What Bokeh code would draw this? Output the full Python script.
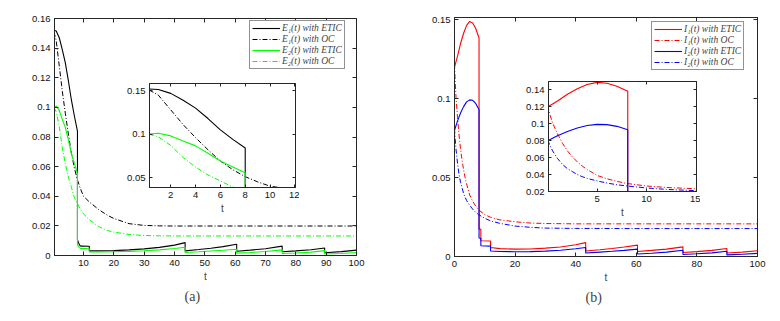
from bokeh.plotting import figure
from bokeh.models import (LinearAxis, FixedTicker, Range1d, Legend, LegendItem,
                          Title, GridBox, Column)
from bokeh.embed import file_html
from bokeh.resources import INLINE

# ---------------- data: panel (a) ----------------
tE1_etic = [0.25, 1, 2, 3, 4, 5, 6, 7, 8.0, 8.0, 8.4, 8.8, 9.2, 11.9, 11.9, 15, 20, 25, 30, 35, 40,
            43.5, 43.5, 48, 52, 56, 60.5, 60.5, 65, 70, 75.5, 75.5, 80, 85, 89.5, 89.5, 95, 100]
E1_etic = [0.152, 0.1515, 0.147, 0.139, 0.130, 0.118, 0.105, 0.094, 0.084, 0.0105, 0.0085, 0.0068,
           0.0063, 0.0062, 0.0031, 0.0031, 0.0033, 0.0038, 0.0045, 0.0055, 0.0070,
           0.0087, 0.0031, 0.0040, 0.0049, 0.0060, 0.0076, 0.0029, 0.0036, 0.0046, 0.0063, 0.0025,
           0.0031, 0.0039, 0.0051, 0.0019, 0.0026, 0.0036]

tE2_etic = [0.25, 1, 2, 3, 4, 5, 6, 7, 8.0, 8.0, 8.5, 9.0, 11.9, 11.9, 15, 20, 25, 30, 35, 40,
            43.5, 43.5, 48, 52, 56, 60.5, 60.5, 65, 70, 75.5, 75.5, 80, 85, 89.5, 89.5, 95, 100]
E2_etic = [0.100, 0.101, 0.098, 0.092, 0.0865, 0.078, 0.069, 0.062, 0.0555, 0.0075, 0.0055, 0.0048,
           0.0046, 0.0024, 0.0024, 0.0025, 0.0028, 0.0032, 0.0038, 0.0047,
           0.0056, 0.0020, 0.0025, 0.0030, 0.0035, 0.0042, 0.0016, 0.0020, 0.0027, 0.0038, 0.0013,
           0.0017, 0.0023, 0.0033, 0.0010, 0.0014, 0.0020]

tE_oc = [0.25, 1, 2, 3, 4, 5, 6, 7, 8, 9, 10, 12, 15, 18, 20, 25, 30, 35, 40, 60, 80, 100]
E1_oc = [0.151, 0.145, 0.128, 0.111, 0.096, 0.082, 0.069, 0.059, 0.051, 0.045, 0.040, 0.036,
         0.031, 0.027, 0.025, 0.0215, 0.0203, 0.0200, 0.0199, 0.0199, 0.0199, 0.0199]
E2_oc = [0.100, 0.097, 0.087, 0.073, 0.062, 0.053, 0.046, 0.039, 0.035, 0.031, 0.028, 0.024,
         0.0195, 0.0168, 0.0158, 0.0142, 0.0135, 0.0133, 0.0132, 0.0132, 0.0132, 0.0132]

# ---------------- data: panel (b) ----------------
tI1_etic = [0, 0.5, 1, 2, 3, 4, 5, 6, 7, 8.1, 8.1, 8.7, 8.7, 11.9, 11.9, 15, 20, 25, 30, 35, 40,
            43.3, 43.3, 48, 52, 56, 60.4, 60.4, 65, 70, 75.4, 75.4, 80, 85, 89.9, 89.9, 95, 100]
I1_etic = [0.120, 0.1235, 0.127, 0.135, 0.1415, 0.1465, 0.149, 0.148, 0.1445, 0.1385, 0.0175, 0.0172,
           0.0100, 0.0098, 0.0057, 0.0050, 0.0047, 0.0048, 0.0053, 0.0060, 0.0074,
           0.0088, 0.0035, 0.0043, 0.0051, 0.0060, 0.0072, 0.0032, 0.0039, 0.0047, 0.0061, 0.0025,
           0.0031, 0.0039, 0.0051, 0.0022, 0.0028, 0.0036]

tI2_etic = tI1_etic
I2_etic = [0.080, 0.083, 0.086, 0.091, 0.095, 0.098, 0.0993, 0.099, 0.097, 0.093, 0.0117, 0.0115,
           0.0068, 0.0066, 0.0035, 0.0032, 0.0030, 0.0031, 0.0034, 0.0040, 0.0049,
           0.0057, 0.0022, 0.0028, 0.0033, 0.0039, 0.0047, 0.0016, 0.0021, 0.0028, 0.0040, 0.0013,
           0.0017, 0.0023, 0.0033, 0.0010, 0.0014, 0.0020]

tI_oc = [0, 0.25, 0.5, 1, 1.5, 2, 2.5, 3, 3.5, 4, 5, 6, 7, 8, 10, 12, 15, 20, 25, 30, 40, 60, 80, 100]
I1_oc = [0.122, 0.110, 0.101, 0.088, 0.077, 0.068, 0.061, 0.055, 0.050, 0.046, 0.039, 0.035,
         0.032, 0.0295, 0.0265, 0.0248, 0.0232, 0.0220, 0.0212, 0.0209, 0.0207, 0.0207, 0.0207, 0.0207]
I2_oc = [0.081, 0.074, 0.068, 0.059, 0.052, 0.047, 0.0435, 0.040, 0.0375, 0.0355, 0.0325, 0.030,
         0.028, 0.0265, 0.0242, 0.0225, 0.0210, 0.0193, 0.0185, 0.0180, 0.0178, 0.0177, 0.0177, 0.0177]

# ---------------- tick labels ----------------
xa_ticks = [10, 20, 30, 40, 50, 60, 70, 80, 90, 100]
ya_ticks = [0, 0.02, 0.04, 0.06, 0.08, 0.1, 0.12, 0.14, 0.16]
ya_labels = ["0", "0.02", "0.04", "0.06", "0.08", "0.1", "0.12", "0.14", "0.16"]
xia_ticks = [2, 4, 6, 8, 10, 12]
yia_ticks = [0.05, 0.1, 0.15]
yia_labels = ["0.05", "0.1", "0.15"]
xb_ticks = [0, 20, 40, 60, 80, 100]
yb_ticks = [0, 0.05, 0.1, 0.15]
yb_labels = ["0", "0.05", "0.1", "0.15"]
xib_ticks = [5, 10, 15]
yib_ticks = [0.02, 0.04, 0.06, 0.08, 0.1, 0.12, 0.14]
yib_labels = ["0.02", "0.04", "0.06", "0.08", "0.1", "0.12", "0.14"]

labels_a = ["E\u2081(t) with ETIC", "E\u2081(t) with OC", "E\u2082(t) with ETIC", "E\u2082(t) with OC"]
labels_b = ["I\u2081(t) with ETIC", "I\u2081(t) with OC", "I\u2082(t) with ETIC", "I\u2082(t) with OC"]

AX = "#262626"
TICK_FONT = "Liberation Sans"
TICK_SIZE = "9.5px"
DASHDOT = "5 2 1 2"


def style_axis(ax, ticks, labels=None, show=True, tick_len=4):
    ax.ticker = FixedTicker(ticks=ticks)
    ax.major_tick_in = tick_len
    ax.major_tick_out = 0
    ax.minor_tick_line_color = None
    ax.axis_line_color = AX
    ax.major_tick_line_color = AX
    ax.major_label_text_color = "#111111"
    ax.major_label_text_font = TICK_FONT
    if show:
        ax.major_label_text_font_size = TICK_SIZE
        ax.major_label_standoff = 4
        if labels is not None:
            ax.major_label_overrides = {t: l for t, l in zip(ticks, labels)}
    else:
        ax.major_label_text_font_size = "1px"
        ax.major_label_standoff = 0
        ax.major_label_overrides = {t: "" for t in ticks}


def make_fig(w, h, xr, yr, bl, br, bt, bb):
    p = figure(width=w, height=h, x_range=Range1d(*xr), y_range=Range1d(*yr),
               output_backend="svg", toolbar_location=None,
               min_border_left=bl, min_border_right=br, min_border_top=bt, min_border_bottom=bb)
    p.xgrid.visible = False
    p.ygrid.visible = False
    p.outline_line_color = AX
    p.outline_line_width = 1
    return p


def finish_axes(p, xt, yt, ylab, xlab_size="10px", tick_len=4, lab_standoff=2):
    style_axis(p.xaxis[0], xt, None, True, tick_len)
    style_axis(p.yaxis[0], yt, ylab, True, tick_len)
    p.xaxis[0].axis_label = "t"
    p.xaxis[0].axis_label_text_font = TICK_FONT
    p.xaxis[0].axis_label_text_font_style = "normal"
    p.xaxis[0].axis_label_text_font_size = xlab_size
    p.xaxis[0].axis_label_standoff = lab_standoff
    top = LinearAxis()
    style_axis(top, xt, None, False, tick_len)
    p.add_layout(top, "above")
    right = LinearAxis()
    style_axis(right, yt, None, False, tick_len)
    p.add_layout(right, "right")


def add_legend(p, rs, labels, loc):
    items = [LegendItem(label=l, renderers=[r]) for l, r in zip(labels, rs)]
    lg = Legend(items=items, location=loc, glyph_width=28, glyph_height=10, label_height=10,
                label_standoff=2, padding=2, spacing=1, margin=0,
                border_line_color=AX, border_line_width=1,
                label_text_font="Liberation Serif", label_text_font_style="italic",
                label_text_font_size="9.5px", background_fill_alpha=1.0)
    p.add_layout(lg)


# ---------------- panel (a) ----------------
pa = make_fig(390, 313, (0.43, 100), (0, 0.16), 54, 34, 18, 58)
ra1 = pa.line(tE1_etic, E1_etic, color="black", line_width=1.1)
ra2 = pa.line(tE_oc, E1_oc, color="black", line_width=1, line_dash=DASHDOT)
ra3 = pa.line(tE2_etic, E2_etic, color="#00ff00", line_width=1.1)
ra4 = pa.line(tE_oc, E2_oc, color="#00ff00", line_width=1, line_dash=DASHDOT)
finish_axes(pa, xa_ticks, ya_ticks, ya_labels)
add_legend(pa, [ra1, ra2, ra3, ra4], labels_a, (195, 186))
pa.add_layout(Title(text="(a)", align="left", offset=130, text_font="Liberation Serif",
                    text_font_size="14px", text_font_style="normal", standoff=4), "below")

ia = make_fig(180, 140, (0.29, 12.05), (0.0385, 0.1584), 30, 4, 4, 32)
ia.border_fill_color = None
ia.line(tE1_etic, E1_etic, color="black", line_width=1.1)
ia.line(tE_oc, E1_oc, color="black", line_width=1, line_dash=DASHDOT)
ia.line(tE2_etic, E2_etic, color="#00ff00", line_width=1.1)
ia.line(tE_oc, E2_oc, color="#00ff00", line_width=1, line_dash=DASHDOT)
finish_axes(ia, xia_ticks, yia_ticks, yia_labels, tick_len=3)
ia_box = Column(children=[ia], margin=(79, 0, 0, 119))

# ---------------- panel (b) ----------------
pb = make_fig(390, 313, (0, 100), (0, 0.1515), 64, 23, 17, 57)
rb1 = pb.line(tI1_etic, I1_etic, color="#ff0000", line_width=1.1)
rb2 = pb.line(tI_oc, I1_oc, color="#ff0000", line_width=1, line_dash=DASHDOT)
rb3 = pb.line(tI2_etic, I2_etic, color="#0000ff", line_width=1.1)
rb4 = pb.line(tI_oc, I2_oc, color="#0000ff", line_width=1, line_dash=DASHDOT)
finish_axes(pb, xb_ticks, yb_ticks, yb_labels)
add_legend(pb, [rb1, rb2, rb3, rb4], labels_b, (197, 186))
pb.add_layout(Title(text="(b)", align="left", offset=131, text_font="Liberation Serif",
                    text_font_size="14px", text_font_style="normal", standoff=4), "below")

ib = make_fig(182, 146, (0.087, 15.05), (0.02, 0.15), 30, 4, 4, 32)
ib.border_fill_color = None
ib.line(tI1_etic, I1_etic, color="#ff0000", line_width=1.1)
ib.line(tI_oc, I1_oc, color="#ff0000", line_width=1, line_dash=DASHDOT)
ib.line(tI2_etic, I2_etic, color="#0000ff", line_width=1.1)
ib.line(tI_oc, I2_oc, color="#0000ff", line_width=1, line_dash=DASHDOT)
finish_axes(ib, xib_ticks, yib_ticks, yib_labels, tick_len=3)
ib_box = Column(children=[ib], margin=(77, 0, 0, 128))

layout = GridBox(children=[(Column(children=[pa]), 0, 0), (ia_box, 0, 0),
                           (Column(children=[pb]), 0, 1), (ib_box, 0, 1)], spacing=0)

open("out.html", "w").write(file_html(layout, INLINE))
